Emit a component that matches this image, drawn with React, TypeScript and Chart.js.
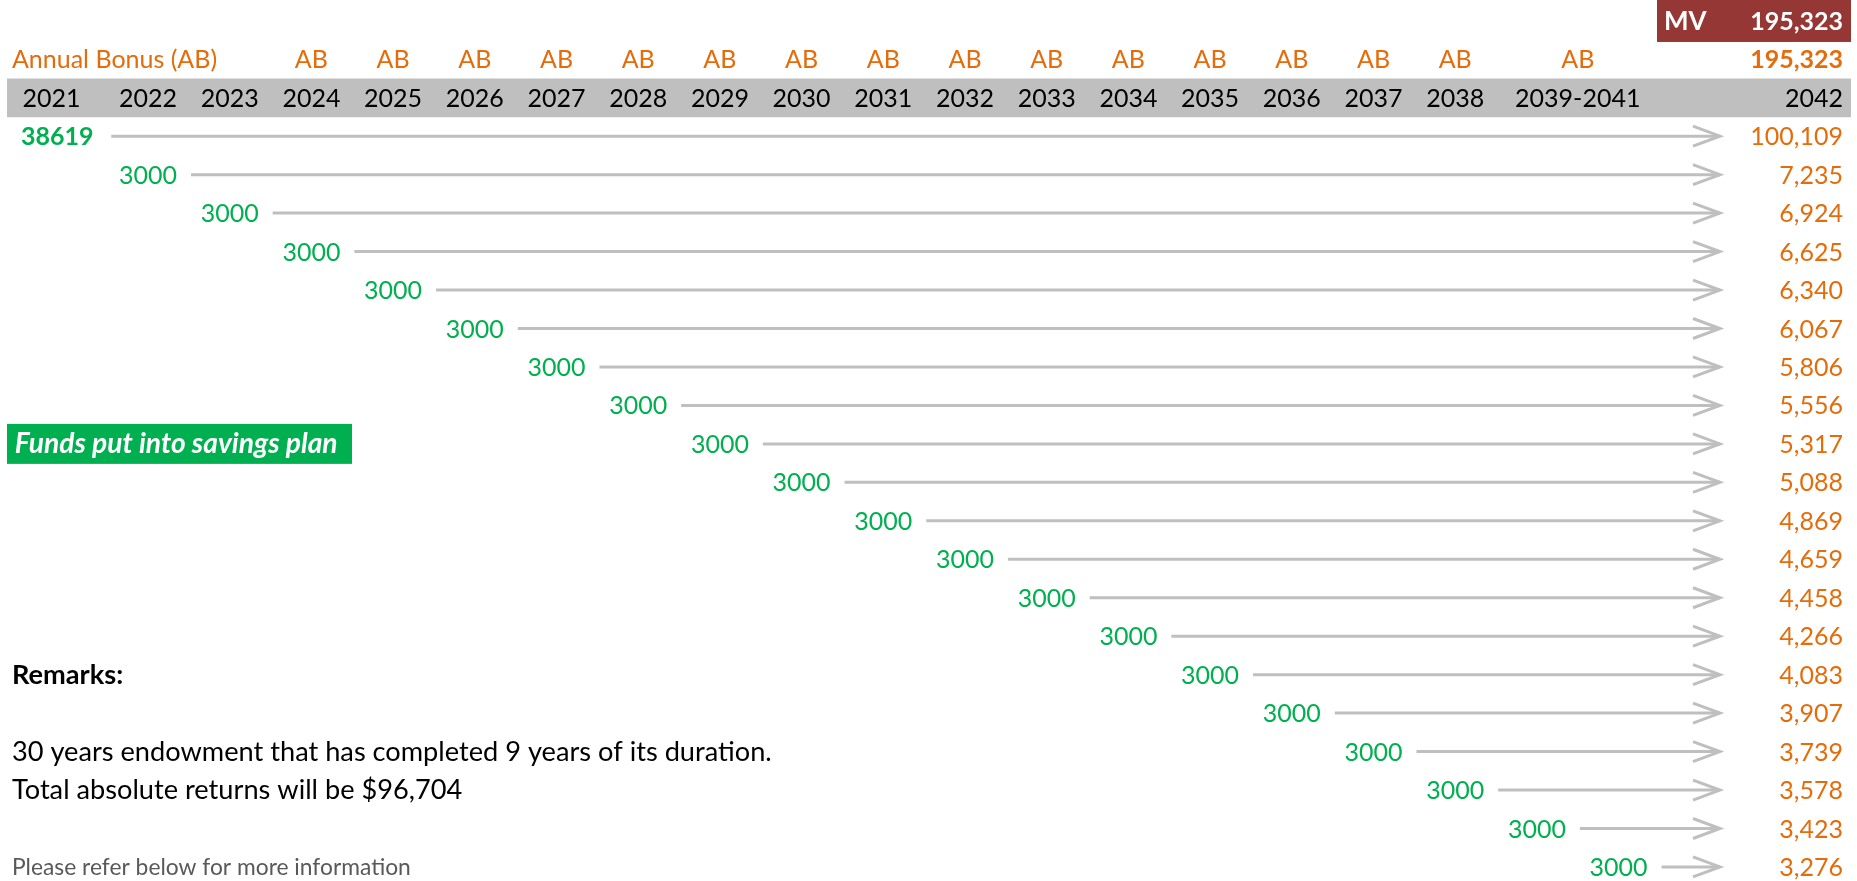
import React, { useEffect, useRef } from "react";
import { Chart, registerables } from "chart.js";

Chart.register(...registerables);

// ---------- data ----------
const headerYears = [
  "2021", "2022", "2023", "2024", "2025", "2026", "2027", "2028", "2029", "2030",
  "2031", "2032", "2033", "2034", "2035", "2036", "2037", "2038", "2039-2041",
];
const finalYear = "2042";
const bonusTitle = "Annual Bonus (AB)";
const bonusTag = "AB";
const bonusYears = [
  "2024", "2025", "2026", "2027", "2028", "2029", "2030", "2031", "2032", "2033",
  "2034", "2035", "2036", "2037", "2038", "2039-2041",
];
const contributionYears = [
  2021, 2022, 2023, 2024, 2025, 2026, 2027, 2028, 2029, 2030,
  2031, 2032, 2033, 2034, 2035, 2036, 2037, 2038, 2039, 2040,
];
const contributions = [
  38619, 3000, 3000, 3000, 3000, 3000, 3000, 3000, 3000, 3000,
  3000, 3000, 3000, 3000, 3000, 3000, 3000, 3000, 3000, 3000,
];
const maturityValues = [
  100109, 7235, 6924, 6625, 6340, 6067, 5806, 5556, 5317, 5088,
  4869, 4659, 4458, 4266, 4083, 3907, 3739, 3578, 3423, 3276,
];
const maturityTotal = 195323;
const mvLabel = "MV";
const calloutText = "Funds put into savings plan";
const remarksTitle = "Remarks:";
const remarksLines = [
  "30 years endowment that has completed 9 years of its duration.",
  "Total absolute returns will be $96,704",
];
const footnote = "Please refer below for more information";

// ---------- layout / style ----------
const W = 1857;
const H = 881;
const X_MIN = 2020.1885;
const X_MAX = 2042.918;
const Y_MIN = -3.541;
const Y_MAX = 19.365;
const LEFT_TEXT = 2020.335;
const RIGHT_TEXT = 2042.747;
const ARROW_TIP = 2041.241;
const FONT = "Lato, 'Open Sans', sans-serif";
const SZ = 25;
const PROSE_SZ = 27.2;
const ORANGE = "#E46C0A";
const GREEN = "#00B050";
const LINE_GRAY = "#BFBFBF";
const BAND_GRAY = "#BFBFBF";
const MV_RED = "#953735";

const ROW_MV = -3;
const ROW_AB = -2;
const ROW_HEAD = -1;

const colPos = (label: string) => {
  const first = parseInt(label, 10);
  if (label.includes("-")) return first + 0.5;
  if (first === 2021) return first - 0.18;
  return first;
};

const arrowStart = (i: number) =>
  i === 0 ? colPos(String(contributionYears[0])) + 0.73 : contributionYears[i] + 0.526;

const fmt = (v: number) => v.toLocaleString("en-US");

function drawText(
  ctx: CanvasRenderingContext2D,
  s: string,
  x: number,
  y: number,
  align: CanvasTextAlign,
  size: number,
  color: string,
  style = "",
  capSize = size
) {
  ctx.font = `${style} ${size}px ${FONT}`.trim();
  ctx.fillStyle = color;
  ctx.textAlign = align;
  ctx.textBaseline = "alphabetic";
  ctx.fillText(s, x, y + capSize * 0.36);
}

const sheetPlugin = {
  id: "sheet",
  beforeDatasetsDraw(chart: any) {
    const { ctx } = chart;
    const sx = chart.scales.x;
    const sy = chart.scales.y;
    const rect = (x0: number, x1: number, y0: number, y1: number, c: string) => {
      const a = sx.getPixelForValue(x0);
      const b = sx.getPixelForValue(x1);
      const t = sy.getPixelForValue(y0);
      const u = sy.getPixelForValue(y1);
      ctx.fillStyle = c;
      ctx.fillRect(a, t, b - a, u - t);
    };
    ctx.save();
    rect(2020.274, 2042.845, ROW_HEAD - 0.5, ROW_HEAD + 0.507, BAND_GRAY);
    rect(2040.47, 2042.845, Y_MIN, -2.45, MV_RED);
    rect(2020.274, 2024.497, 7.48, 8.52, GREEN);
    ctx.restore();
  },
  afterDatasetsDraw(chart: any) {
    const { ctx } = chart;
    const sx = chart.scales.x;
    const sy = chart.scales.y;
    const X = (v: number) => sx.getPixelForValue(v);
    const Y = (v: number) => sy.getPixelForValue(v);
    ctx.save();

    // arrowheads
    ctx.strokeStyle = LINE_GRAY;
    ctx.lineWidth = 3;
    ctx.lineJoin = "miter";
    ctx.lineCap = "butt";
    chart.data.datasets.forEach((_: any, i: number) => {
      const meta = chart.getDatasetMeta(i);
      const tip = meta.data[meta.data.length - 1];
      ctx.beginPath();
      ctx.moveTo(tip.x - 27, tip.y - 10);
      ctx.lineTo(tip.x, tip.y);
      ctx.lineTo(tip.x - 27, tip.y + 10);
      ctx.stroke();
    });

    // MV row
    drawText(ctx, mvLabel, X(2040.556), Y(ROW_MV), "left", 26, "#FFFFFF", "bold", SZ);
    drawText(ctx, fmt(maturityTotal), X(RIGHT_TEXT), Y(ROW_MV), "right", SZ, "#FFFFFF", "bold");

    // Annual bonus row
    drawText(ctx, bonusTitle, X(LEFT_TEXT), Y(ROW_AB), "left", SZ, ORANGE);
    bonusYears.forEach((b) => drawText(ctx, bonusTag, X(colPos(b)), Y(ROW_AB), "center", SZ, ORANGE));
    drawText(ctx, fmt(maturityTotal), X(RIGHT_TEXT), Y(ROW_AB), "right", SZ, ORANGE, "bold");

    // header years
    headerYears.forEach((h) => drawText(ctx, h, X(colPos(h)), Y(ROW_HEAD), "center", SZ, "#000000"));
    drawText(ctx, finalYear, X(RIGHT_TEXT), Y(ROW_HEAD), "right", SZ, "#000000");

    // rows
    contributions.forEach((c, i) => {
      if (i === 0) {
        drawText(ctx, String(c), X(colPos(String(contributionYears[0])) + 0.07), Y(i), "center", SZ, GREEN, "bold");
      } else {
        drawText(ctx, String(c), X(contributionYears[i]), Y(i), "center", SZ, GREEN);
      }
      drawText(ctx, fmt(maturityValues[i]), X(RIGHT_TEXT), Y(i), "right", SZ, ORANGE);
    });

    // callout
    drawText(ctx, calloutText, X(2020.37), Y(8), "left", 28.2, "#FFFFFF", "italic bold", SZ);

    // remarks
    drawText(ctx, remarksTitle, X(LEFT_TEXT), Y(14), "left", PROSE_SZ, "#000000", "bold", SZ);
    remarksLines.forEach((l, k) =>
      drawText(ctx, l, X(LEFT_TEXT), Y(16 + k), "left", PROSE_SZ, "#000000", "", SZ)
    );
    drawText(ctx, footnote, X(LEFT_TEXT), Y(19), "left", 22.8, "#595959", "", 21);

    ctx.restore();
  },
};

export default function App() {
  const ref = useRef<HTMLCanvasElement>(null);
  useEffect(() => {
    const canvas = ref.current;
    if (!canvas) return;
    const datasets = contributionYears.map((yr, i) => ({
      label: String(yr),
      data: [
        { x: arrowStart(i), y: i },
        { x: ARROW_TIP, y: i },
      ],
      borderColor: LINE_GRAY,
      borderWidth: 3,
      pointRadius: 0,
      pointHoverRadius: 0,
      fill: false,
      tension: 0,
    }));
    const chart = new Chart(canvas, {
      type: "line",
      data: { datasets },
      options: {
        responsive: false,
        animation: false,
        events: [],
        layout: { padding: 0 },
        plugins: {
          legend: { display: false },
          tooltip: { enabled: false },
          title: { display: false },
        },
        scales: {
          x: { type: "linear", min: X_MIN, max: X_MAX, display: false },
          y: { type: "linear", min: Y_MIN, max: Y_MAX, reverse: true, display: false },
        },
      },
      plugins: [sheetPlugin],
    } as any);
    return () => chart.destroy();
  }, []);
  return (
    <div style={{ position: "absolute", left: 0, top: 0, width: W, height: H, background: "#ffffff" }}>
      <canvas ref={ref} width={W} height={H} style={{ display: "block" }} />
    </div>
  );
}
